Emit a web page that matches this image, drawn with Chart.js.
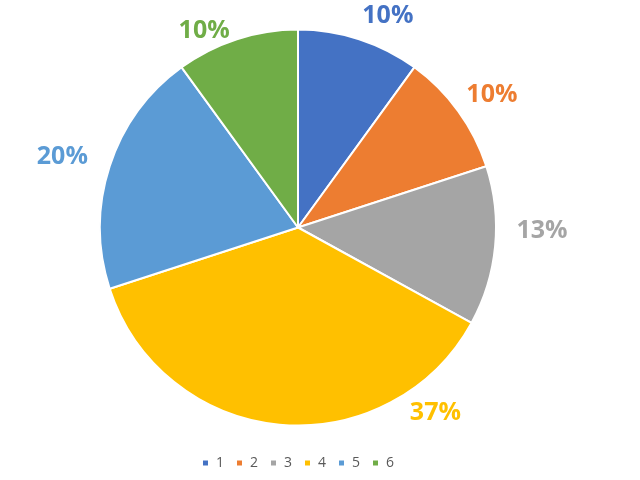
<!DOCTYPE html>
<html>
<head>
<meta charset="utf-8">
<script src="https://cdn.jsdelivr.net/npm/chart.js@4"></script>
<style>
  html, body { margin: 0; padding: 0; background: #fff; }
  #wrap { width: 640px; height: 480px; }
</style>
</head>
<body>
<div id="wrap"><canvas id="pieChart" width="640" height="480"></canvas></div>
<script>
// Data
const categories = ['1', '2', '3', '4', '5', '6'];
const shares = [10, 10, 13, 37, 20, 10];
const sliceColors = ['#4472C4', '#ED7D31', '#A5A5A5', '#FFC000', '#5B9BD5', '#70AD47'];

// Label placement (degrees clockwise from top, extra px beyond the rim)
const labelAngles = [23, 55.6, 90.7, 143.5, 286.7, 334.5];
const labelGaps = [32, 37, 46, 33, 48, 20];

// Percent labels outside the pie
const outsideLabels = {
    id: 'outsideLabels',
    afterDatasetsDraw(chart) {
        const ctx = chart.ctx;
        const meta = chart.getDatasetMeta(0);
        ctx.save();
        ctx.font = 'bold 25px "Open Sans", sans-serif';
        ctx.textAlign = 'center';
        ctx.textBaseline = 'middle';
        meta.data.forEach((arc, i) => {
            const a = (labelAngles[i] - 90) * Math.PI / 180;
            const d = arc.outerRadius + labelGaps[i];
            ctx.fillStyle = sliceColors[i];
            ctx.fillText(shares[i] + '%', arc.x + Math.cos(a) * d, arc.y + Math.sin(a) * d);
        });
        ctx.restore();
    }
};

const ctx = document.getElementById('pieChart').getContext('2d');
new Chart(ctx, {
    type: 'pie',
    data: {
        labels: categories,
        datasets: [{
            data: shares,
            backgroundColor: sliceColors,
            borderColor: '#ffffff',
            borderWidth: 2,
            radius: 198
        }]
    },
    options: {
        responsive: false,
        animation: false,
        layout: { padding: { top: 11, left: 0, right: 44, bottom: 0 } },
        plugins: {
            legend: {
                position: 'bottom',
                labels: {
                    boxWidth: 7,
                    boxHeight: 7,
                    padding: 12,
                    color: '#595959',
                    font: { family: '"Open Sans", sans-serif', size: 14 }
                }
            },
            tooltip: { enabled: false }
        }
    },
    plugins: [outsideLabels]
});
</script>
</body>
</html>
